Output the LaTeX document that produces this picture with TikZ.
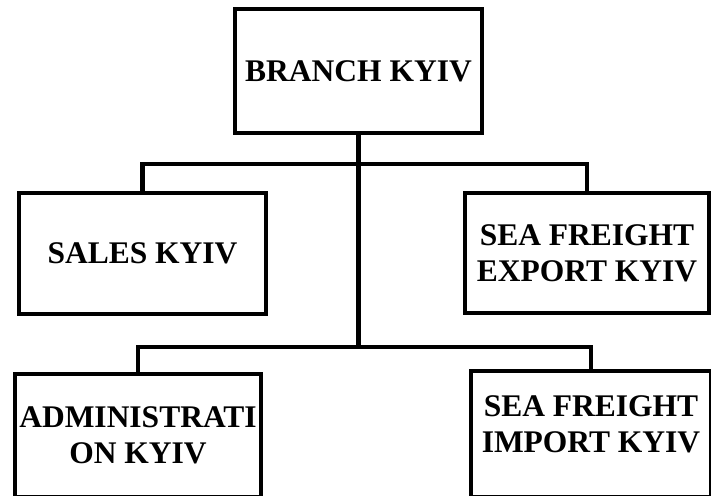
\documentclass[tikz,border=0pt]{standalone}
\usepackage{fontspec}
\setmainfont{Liberation Serif}
\usepackage{tikz}
\usetikzlibrary{positioning,calc}

\begin{document}
\begin{tikzpicture}[
  x=1pt, y=-1pt,
  unit/.style={rectangle, draw, line width=4.2pt, fill=white, align=center,
               inner sep=0pt, font=\fontsize{31.5}{36}\selectfont\bfseries},
  link/.style={line width=4.2pt}
]
  \useasboundingbox[fill=white] (0,0) rectangle (711,495);

  % units
  \node[unit, minimum width=247pt, minimum height=124pt] (branch) at (358.5,71) {BRANCH KYIV};
  \node[unit, minimum width=247pt, minimum height=121pt] (sales) at (142.5,253.5) {SALES KYIV};
  \node[unit, minimum width=244pt, minimum height=120pt] (export) at (587,253) {SEA FREIGHT\\EXPORT KYIV};
  \node[unit, minimum width=246pt, minimum height=123pt] (admin) at (138,435.5) {ADMINISTRATI\\ON KYIV};
  \node[unit, minimum width=240pt, minimum height=126pt, text depth=19pt] (import) at (591,434) {SEA FREIGHT\\IMPORT KYIV};

  \coordinate (upper) at (358.5,164);
  \coordinate (lower) at (358.5,347);

  % connectors
  \draw[link] (branch.south) -- (lower);
  \draw[link] (sales.north) |- (upper) -| (export.north);
  \draw[link] (admin.north) |- (lower) -| (import.north);
\end{tikzpicture}
\end{document}
